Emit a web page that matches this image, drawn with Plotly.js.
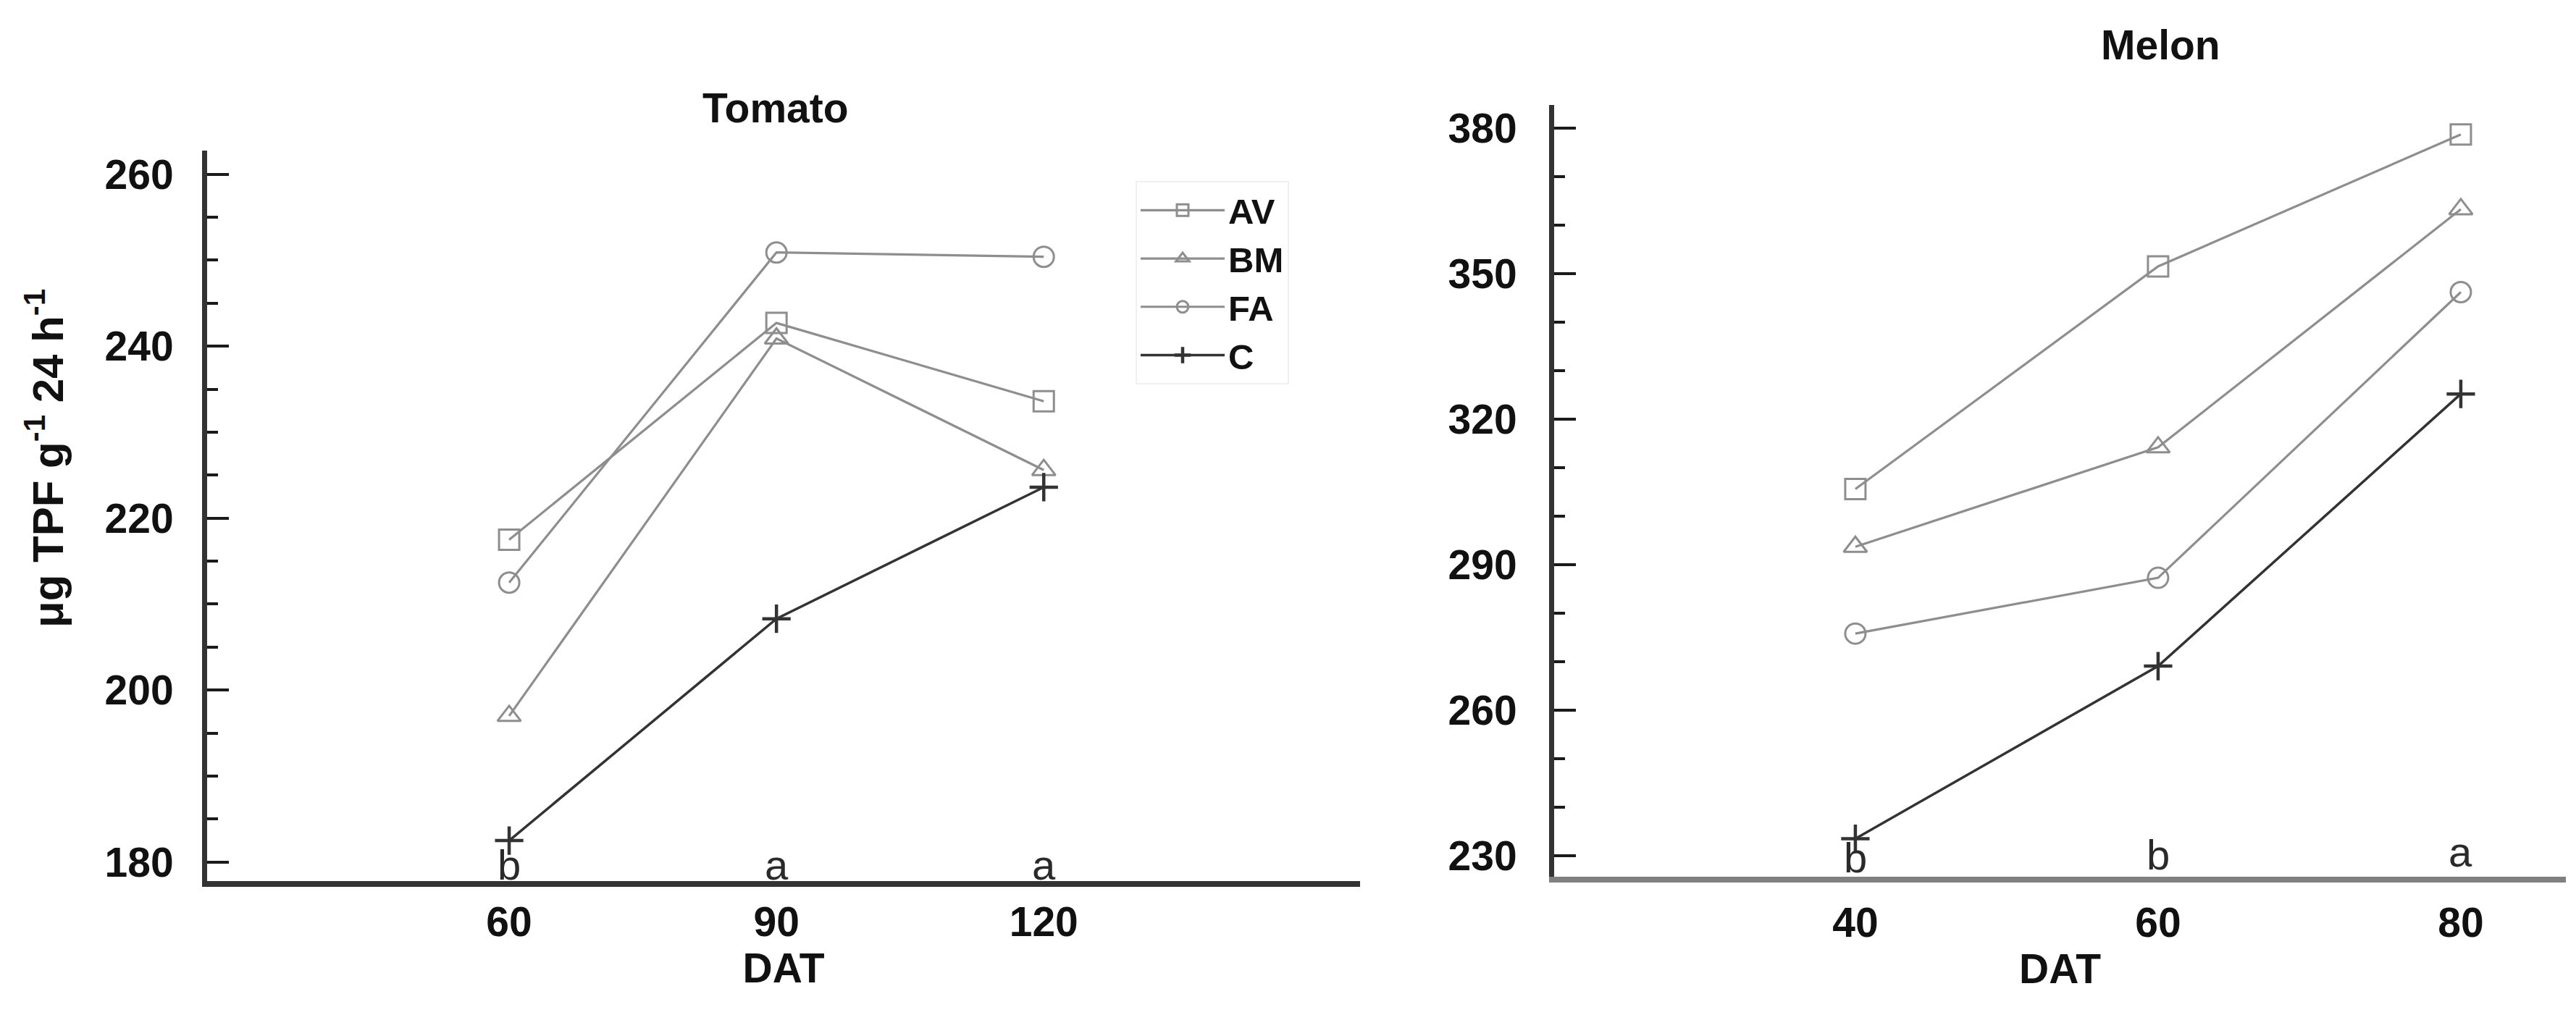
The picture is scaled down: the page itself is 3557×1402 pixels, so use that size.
<!DOCTYPE html>
<html><head><meta charset="utf-8">
<script src="https://cdn.plot.ly/plotly-3.0.1.min.js"></script>
<style>html,body{margin:0;padding:0;background:#fff}#chart{width:3557px;height:1402px}</style>
</head><body><div id="chart"></div>
<script>
// ---- data ----
const seriesNames = ['AV', 'BM', 'FA', 'C'];

const tomatoDAT = [60, 90, 120];
const tomatoAV = [217.5, 242.7, 233.6];
const tomatoBM = [197.0, 240.9, 225.6];
const tomatoFA = [212.5, 250.9, 250.4];
const tomatoC  = [182.5, 208.3, 223.6];
const tomatoLetters = ['b', 'a', 'a'];

const melonDAT = [40, 60, 80];
const melonAV = [305.6, 351.5, 378.7];
const melonBM = [293.7, 314.2, 363.3];
const melonFA = [275.8, 287.3, 346.2];
const melonC  = [233.5, 269.1, 325.2];
const melonLetters = ['b', 'b', 'a'];

const tomatoTickVals = [180, 200, 220, 240, 260];
const tomatoMinorVals = [185, 190, 195, 205, 210, 215, 225, 230, 235, 245, 250, 255, 260];
const melonTickVals = [230, 260, 290, 320, 350, 380];

// ---- styles ----
const FONT = 'Liberation Sans, Arial, Helvetica, sans-serif';
const styles = {
  AV: {symbol: 'square-open', color: '#8e8e8e'},
  BM: {symbol: 'triangle-up-open', color: '#8e8e8e'},
  FA: {symbol: 'circle-open', color: '#8e8e8e'},
  C:  {symbol: 'cross-thin', color: '#333333'}
};

const tomatoSeries = {AV: tomatoAV, BM: tomatoBM, FA: tomatoFA, C: tomatoC};
const melonSeries = {AV: melonAV, BM: melonBM, FA: melonFA, C: melonC};

function makeTrace(name, xs, ys, xa, ya, showlegend) {
  const s = styles[name];
  return {
    type: 'scatter', mode: 'lines+markers', name: name,
    x: xs, y: ys, xaxis: xa, yaxis: ya, showlegend: showlegend,
    line: {color: s.color, width: name === 'C' ? 3.5 : 3.2},
    marker: {symbol: s.symbol, size: 28, color: s.color, line: {color: s.color, width: name === 'C' ? 4.5 : 3}},
    hoverinfo: 'x+y+name'
  };
}

const traces = [];
seriesNames.forEach(n => traces.push(makeTrace(n, tomatoDAT, tomatoSeries[n], 'x', 'y', true)));
seriesNames.forEach(n => traces.push(makeTrace(n, melonDAT, melonSeries[n], 'x2', 'y2', false)));

const tickFont = {family: FONT, size: 57, color: '#111', weight: 'bold'};
const titleFont = {family: FONT, size: 57, color: '#111', weight: 'bold'};

function yAxis(extra) {
  return Object.assign({
    showline: true, linecolor: '#333', linewidth: 7,
    ticks: 'inside', ticklen: 30, tickwidth: 4, tickcolor: '#1a1a1a',
    showgrid: false, zeroline: false, tickfont: tickFont, ticklabelstandoff: 28,
    fixedrange: true
  }, extra);
}
function xAxis(extra) {
  return Object.assign({
    showline: true, linewidth: 8, ticks: '', showgrid: false, zeroline: false,
    tickfont: tickFont, ticklabelstandoff: 0, fixedrange: true
  }, extra);
}

const annotations = [];
tomatoLetters.forEach((t, i) => annotations.push({
  xref: 'x', yref: 'y domain', x: tomatoDAT[i], y: 0, yanchor: 'bottom', yshift: -12,
  text: t, showarrow: false, font: {family: FONT, size: 58, color: '#2a2a2a'}
}));
melonLetters.forEach((t, i) => annotations.push({
  xref: 'x2', yref: 'y2 domain', x: melonDAT[i], y: 0, yanchor: 'bottom', yshift: -8 + i * 4,
  text: t, showarrow: false, font: {family: FONT, size: 58, color: '#2a2a2a'}
}));
annotations.push({xref: 'paper', yref: 'paper', x: 1071 / 3557, y: 1 - 149 / 1402, xanchor: 'center', yanchor: 'middle',
  text: 'Tomato', showarrow: false, font: titleFont});
annotations.push({xref: 'paper', yref: 'paper', x: 2983 / 3557, y: 1 - 62 / 1402, xanchor: 'center', yanchor: 'middle',
  text: 'Melon', showarrow: false, font: titleFont});
annotations.push({xref: 'paper', yref: 'paper', x: 62 / 3557, y: 1 - 633 / 1402, xanchor: 'center', yanchor: 'middle',
  textangle: -90, text: 'μg TPF g<sup>-1</sup> 24 h<sup>-1</sup>', showarrow: false,
  font: {family: FONT, size: 60, color: '#111', weight: 'bold'}});

const layout = {
  width: 3557, height: 1402,
  margin: {l: 0, r: 0, t: 0, b: 0},
  paper_bgcolor: '#fff', plot_bgcolor: '#fff',
  showlegend: true,
  legend: {
    x: 1568 / 3557, y: 1 - 250 / 1402, xanchor: 'left', yanchor: 'top',
    bgcolor: '#fff', bordercolor: '#f0f0f0', borderwidth: 2,
    font: {family: FONT, size: 49, color: '#111', weight: 'bold'},
    itemwidth: 116, tracegroupgap: 0
  },
  xaxis: xAxis({domain: [286 / 3557, 1878 / 3557], range: [26.1, 155.5], anchor: 'y',
    linecolor: '#333', tickvals: tomatoDAT, ticktext: tomatoDAT.map(String),
    title: {text: 'DAT', font: titleFont, standoff: 12}}),
  yaxis: yAxis({domain: [1 - 1217 / 1402, 1 - 208 / 1402], range: [177.79, 262.75], anchor: 'x',
    tickvals: tomatoTickVals, minor: {tickvals: tomatoMinorVals, ticks: 'inside', ticklen: 15, tickwidth: 4, tickcolor: '#1a1a1a', showgrid: false}}),
  xaxis2: xAxis({domain: [2146 / 3557, 3543 / 3557], range: [20.1, 86.94], anchor: 'y2',
    linecolor: '#808080', tickvals: melonDAT, ticktext: melonDAT.map(String), ticklabelstandoff: 7,
    title: {text: 'DAT', font: titleFont, standoff: 16}}),
  yaxis2: yAxis({domain: [1 - 1211 / 1402, 1 - 145 / 1402], range: [225.67, 384.78], anchor: 'x2',
    ticklabelstandoff: 33,
    tickvals: melonTickVals, minor: {dtick: 10, tick0: 230, ticks: 'inside', ticklen: 15, tickwidth: 4, tickcolor: '#1a1a1a', showgrid: false}}),
  annotations: annotations
};

Plotly.newPlot('chart', traces, layout, {displayModeBar: false, staticPlot: true});
</script>
</body></html>
